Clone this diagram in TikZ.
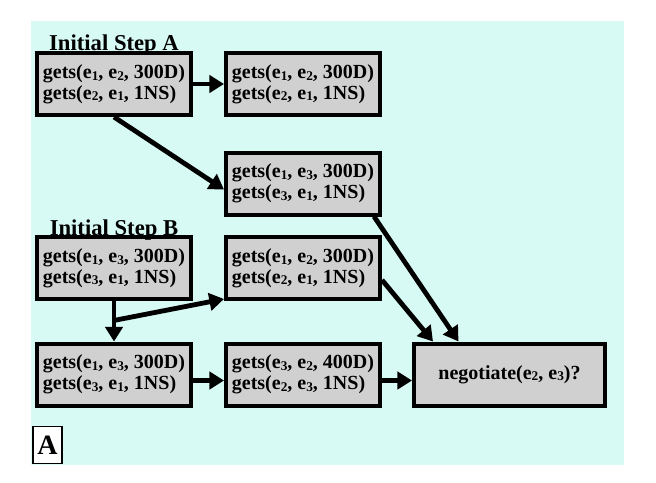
\documentclass[tikz,border=0pt]{standalone}
\usepackage{fontspec}
\setmainfont{Liberation Serif}
\usetikzlibrary{arrows.meta,calc}
\definecolor{bgcyan}{RGB}{216,250,244}
\definecolor{boxgray}{RGB}{208,208,208}
\newcommand{\ssub}[1]{{\fontsize{10}{10}\selectfont\raisebox{-1.2pt}{#1}}}
\tikzset{
  gbox/.style={draw=black, line width=3pt, fill=boxgray, minimum width=115.5pt, minimum height=46.5pt,
    align=left, inner sep=2pt, font=\fontsize{15}{15.5}\selectfont\bfseries},
  steplabel/.style={anchor=base, inner sep=0pt, font=\fontsize{17}{17}\selectfont\bfseries},
  arr/.style={line width=3.6pt, -{Triangle[length=11pt,width=13pt]}},
}
\begin{document}
\begin{tikzpicture}[x=0.75pt,y=-0.75pt]
\useasboundingbox (0,0) rectangle (656,482);
\fill[bgcyan] (31,21) rectangle (624,465);
\node[gbox] (A1) at (114,84) {gets(e\ssub{1}, e\ssub{2}, 300D)\\gets(e\ssub{2}, e\ssub{1}, 1NS)};
\node[gbox] (A2) at (303,84) {gets(e\ssub{1}, e\ssub{2}, 300D)\\gets(e\ssub{2}, e\ssub{1}, 1NS)};
\node[gbox] (A3) at (303,183.5) {gets(e\ssub{1}, e\ssub{3}, 300D)\\gets(e\ssub{3}, e\ssub{1}, 1NS)};
\node[gbox] (B1) at (114,268) {gets(e\ssub{1}, e\ssub{3}, 300D)\\gets(e\ssub{3}, e\ssub{1}, 1NS)};
\node[gbox] (B2) at (303,268) {gets(e\ssub{1}, e\ssub{2}, 300D)\\gets(e\ssub{2}, e\ssub{1}, 1NS)};
\node[gbox] (B3) at (114,374.5) {gets(e\ssub{1}, e\ssub{3}, 300D)\\gets(e\ssub{3}, e\ssub{1}, 1NS)};
\node[gbox] (B4) at (303,374.5) {gets(e\ssub{3}, e\ssub{2}, 400D)\\gets(e\ssub{2}, e\ssub{3}, 1NS)};
\node[gbox, minimum width=143.25pt, align=center] (N) at (509.5,374.5) {negotiate(e\ssub{2}, e\ssub{3})?};
\node[steplabel] (LA) at (114,50) {Initial Step A};
\node[steplabel] (LB) at (114,235) {Initial Step B};
\node[draw=black, line width=1.1pt, fill=white, minimum width=22pt, minimum height=27.5pt, inner sep=0pt,
  font=\fontsize{21}{21}\selectfont\bfseries] (AB) at (47.5,445) {A};
\coordinate (br) at ($(B1.south)!0.48!(B3.north)$);
\draw[arr] (A1.east) -- (A2.west);
\draw[arr] (A1.south) -- ($(A3.west)+(0,6)$);
\draw[arr] (B1.south) -- (B3.north);
\draw[arr] (br) -- ($(B2.south west)+(0,-2)$);
\draw[arr] ($(B3.east)+(0,6)$) -- ($(B4.west)+(0,6)$);
\draw[arr] ($(B4.east)+(0,6)$) -- ($(N.west)+(0,6)$);
\draw[arr] ($(A3.south east)+(-8,0)$) -- ($(N.north)+(-51,0)$);
\draw[arr] ($(B2.east)+(0,12)$) -- ($(N.north west)+(21,0)$);
\end{tikzpicture}
\end{document}
